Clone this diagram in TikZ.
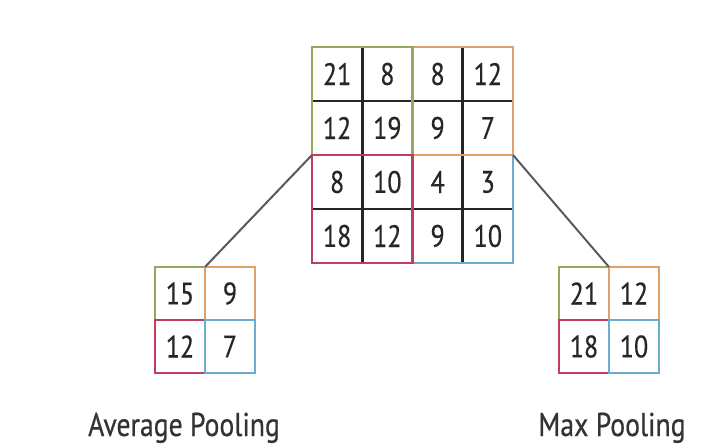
\documentclass[tikz,border=0pt]{standalone}
\usepackage{fontspec}
\setmainfont[FakeStretch=0.84, FakeBold=0.5]{PT Sans}
\usetikzlibrary{positioning}

\definecolor{poolgreen}{RGB}{145,170,95}
\definecolor{poolorange}{RGB}{224,162,105}
\definecolor{poolred}{RGB}{192,62,92}
\definecolor{poolblue}{RGB}{105,172,208}

\tikzset{
  cell/.style={draw=black!85, line width=2.7pt, minimum width=50.25pt, minimum height=54pt,
    inner sep=0pt, outer sep=0pt, font=\fontsize{31}{31}\selectfont, text=black!85},
  poolcell/.style={cell, minimum width=50pt, minimum height=53pt},
  quad/.style={line width=2.7pt},
  caption/.style={anchor=base, inner sep=0pt, font=\fontsize{33}{33}\selectfont, text=black!80}
}

\begin{document}
\begin{tikzpicture}[x=1pt, y=-1pt]
\useasboundingbox (0,0) rectangle (716,444);

% input feature map
\foreach \row/\vals in {1/{21,8,8,12},2/{12,19,9,7},3/{8,10,4,3},4/{18,12,9,10}}
  \foreach \v [count=\col] in \vals
    \node[cell] (m-\row-\col) at ({312+50.25*(\col-0.5)},{47+54*(\row-0.5)}) {\v};

% 2x2 windows
\draw[quad, poolblue] (m-3-3.north west) rectangle (m-4-4.south east);
\draw[quad, poolorange] (m-1-3.north west) rectangle (m-2-4.south east);
\draw[quad, poolgreen] (m-1-1.north west) rectangle (m-2-2.south east);
\draw[quad, poolred] (m-3-1.north west) rectangle (m-4-2.south east);

% pooled outputs
\foreach \name/\x/\a/\b/\c/\d in {avg/155/15/9/12/7, max/559/21/12/18/10} {
  \node[poolcell, draw=poolgreen] (\name-1-1) at (\x+25,293.5) {\a};
  \node[poolcell, draw=poolorange] (\name-1-2) at (\x+75,293.5) {\b};
  \node[poolcell, draw=poolred] (\name-2-1) at (\x+25,346.5) {\c};
  \node[poolcell, draw=poolblue] (\name-2-2) at (\x+75,346.5) {\d};
}

\draw[line width=2pt, black!65] (m-3-1.north west) -- (avg-1-2.north west);
\draw[line width=2pt, black!65] (m-3-4.north east) -- (max-1-2.north west);

\node[caption] (avglabel) at (184,436) {Average Pooling};
\node[caption] (maxlabel) at (612,436) {Max Pooling};
\end{tikzpicture}
\end{document}
